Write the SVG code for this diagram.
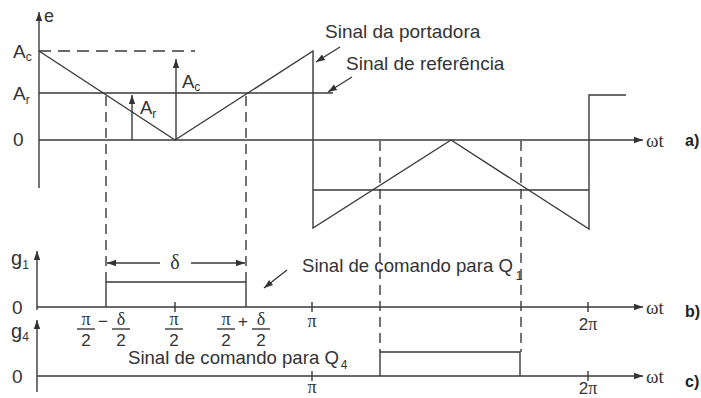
<svg xmlns="http://www.w3.org/2000/svg" width="701" height="398" viewBox="0 0 701 398">
<defs>
<marker id="ah" markerUnits="userSpaceOnUse" markerWidth="10" markerHeight="8" refX="9" refY="4" orient="auto">
<path d="M0,0.8 L9,4 L0,7.2 Z" fill="#333"/>
</marker>
<style>
.ln{stroke:#3a3a3a;stroke-width:1.4;fill:none}
.dash{stroke:#3a3a3a;stroke-width:1.4;fill:none;stroke-dasharray:10 6}
.t{font-family:"Liberation Sans",Arial,sans-serif;fill:#333}
.s{font-family:"Liberation Serif","Times New Roman",serif;fill:#333}
.lab{font-family:"Liberation Sans",Arial,sans-serif;font-weight:bold;fill:#222;font-size:16px}
</style>
</defs>
<rect width="701" height="398" fill="#fff"/>

<g id="axes">
<line class="ln" x1="39" y1="188" x2="39" y2="12" marker-end="url(#ah)"/>
<line class="ln" x1="39" y1="140" x2="643" y2="140" marker-end="url(#ah)"/>
<line class="ln" x1="37" y1="310" x2="37" y2="251" marker-end="url(#ah)"/>
<line class="ln" x1="37" y1="307" x2="643" y2="307" marker-end="url(#ah)"/>
<line class="ln" x1="37" y1="392" x2="37" y2="320" marker-end="url(#ah)"/>
<line class="ln" x1="37" y1="376" x2="643" y2="376" marker-end="url(#ah)"/>
<line class="ln" x1="175" y1="302" x2="175" y2="312"/>
<line class="ln" x1="312" y1="302" x2="312" y2="312"/>
<line class="ln" x1="588" y1="302" x2="588" y2="312"/>
<line class="ln" x1="312" y1="371" x2="312" y2="381"/>
<line class="ln" x1="588" y1="371" x2="588" y2="381"/>
</g>

<g id="carrier">
<polyline class="ln" points="39,51 175,140 313,51 313,228 451,140 589,229 589,95 626,95"/>
</g>
<g id="reference">
<line class="ln" x1="39" y1="93" x2="333" y2="93"/>
<line class="ln" x1="313" y1="190" x2="589" y2="190"/>
<line class="dash" x1="39" y1="51" x2="195" y2="51" style="stroke-dasharray:12 7"/>
</g>

<g id="pulses">
<polyline class="ln" points="106,307 106,282 246,282 246,307"/>
<polyline class="ln" points="380,376 380,352 520,352 520,376"/>
</g>

<g id="connectors">
<line class="dash" x1="106" y1="96" x2="106" y2="282"/>
<line class="dash" x1="246" y1="96" x2="246" y2="282"/>
<line class="dash" x1="380" y1="141" x2="380" y2="352"/>
<line class="dash" x1="521" y1="141" x2="521" y2="352"/>
<line class="ln" x1="132" y1="140" x2="132" y2="95" marker-end="url(#ah)"/>
<line class="ln" x1="176" y1="140" x2="176" y2="59" marker-end="url(#ah)"/>
<line class="ln" x1="160" y1="263" x2="107" y2="263" marker-end="url(#ah)"/>
<line class="ln" x1="191" y1="263" x2="245" y2="263" marker-end="url(#ah)"/>
<line class="ln" x1="340" y1="47" x2="316" y2="62" marker-end="url(#ah)"/>
<line class="ln" x1="352" y1="77" x2="328" y2="92" marker-end="url(#ah)"/>
<line class="ln" x1="287" y1="270" x2="264" y2="288" marker-end="url(#ah)"/>
<line class="ln" x1="77" y1="329" x2="95" y2="329"/>
<line class="ln" x1="112" y1="329" x2="130" y2="329"/>
<line class="ln" x1="165" y1="329" x2="183" y2="329"/>
<line class="ln" x1="217" y1="329" x2="235" y2="329"/>
<line class="ln" x1="252" y1="329" x2="270" y2="329"/>
</g>

<g id="labels">
<text class="t" x="44" y="22" font-size="18">e</text>
<text class="t" x="13" y="58" font-size="19">A<tspan font-size="12" dy="3">c</tspan></text>
<text class="t" x="13" y="100" font-size="19">A<tspan font-size="12" dy="4">r</tspan></text>
<text class="t" x="13" y="146" font-size="19">0</text>
<text class="t" x="140" y="114" font-size="18.5">A<tspan font-size="12" dy="4">r</tspan></text>
<text class="t" x="182" y="88" font-size="18.5">A<tspan font-size="12" dy="3">c</tspan></text>
<text class="t" x="325" y="38" font-size="19">Sinal da portadora</text>
<text class="t" x="346" y="70" font-size="19">Sinal de referência</text>
<text class="t" x="302" y="272" font-size="18.6">Sinal de comando para Q<tspan font-size="12" dx="3" dy="8">1</tspan></text>
<text class="t" x="128" y="364" font-size="18.6">Sinal de comando para Q<tspan font-size="12" dx="2" dy="5">4</tspan></text>
<text class="t" x="11" y="265" font-size="20">g<tspan font-size="12" dy="4">1</tspan></text>
<text class="t" x="11" y="338" font-size="20">g<tspan font-size="12" dy="3">4</tspan></text>
<text class="t" x="12" y="314" font-size="19">0</text>
<text class="t" x="12" y="383" font-size="19">0</text>
<text class="s" x="175" y="269" font-size="20" text-anchor="middle">δ</text>

<text class="s" x="86" y="325" font-size="18" text-anchor="middle">π</text>
<text class="t" x="86" y="346" font-size="17" text-anchor="middle">2</text>
<text class="t" x="103" y="327" font-size="17" text-anchor="middle">−</text>
<text class="s" x="121" y="325" font-size="18" text-anchor="middle">δ</text>
<text class="t" x="121" y="346" font-size="17" text-anchor="middle">2</text>
<text class="s" x="174" y="325" font-size="18" text-anchor="middle">π</text>
<text class="t" x="174" y="346" font-size="17" text-anchor="middle">2</text>
<text class="s" x="226" y="325" font-size="18" text-anchor="middle">π</text>
<text class="t" x="226" y="346" font-size="17" text-anchor="middle">2</text>
<text class="t" x="243" y="327" font-size="17" text-anchor="middle">+</text>
<text class="s" x="261" y="325" font-size="18" text-anchor="middle">δ</text>
<text class="t" x="261" y="346" font-size="17" text-anchor="middle">2</text>

<text class="s" x="312" y="327" font-size="18" text-anchor="middle">π</text>
<text class="t" x="588" y="330" font-size="17" text-anchor="middle">2<tspan class="s" font-size="18">π</tspan></text>
<text class="s" x="312" y="393" font-size="18" text-anchor="middle">π</text>
<text class="t" x="588" y="394" font-size="17" text-anchor="middle">2<tspan class="s" font-size="18">π</tspan></text>

<text class="s" x="646" y="147" font-size="19">ωt</text>
<text class="s" x="646" y="314" font-size="19">ωt</text>
<text class="s" x="646" y="383" font-size="19">ωt</text>
<text class="lab" x="685" y="146">a)</text>
<text class="lab" x="685" y="317">b)</text>
<text class="lab" x="685" y="387">c)</text>
</g>
</svg>
